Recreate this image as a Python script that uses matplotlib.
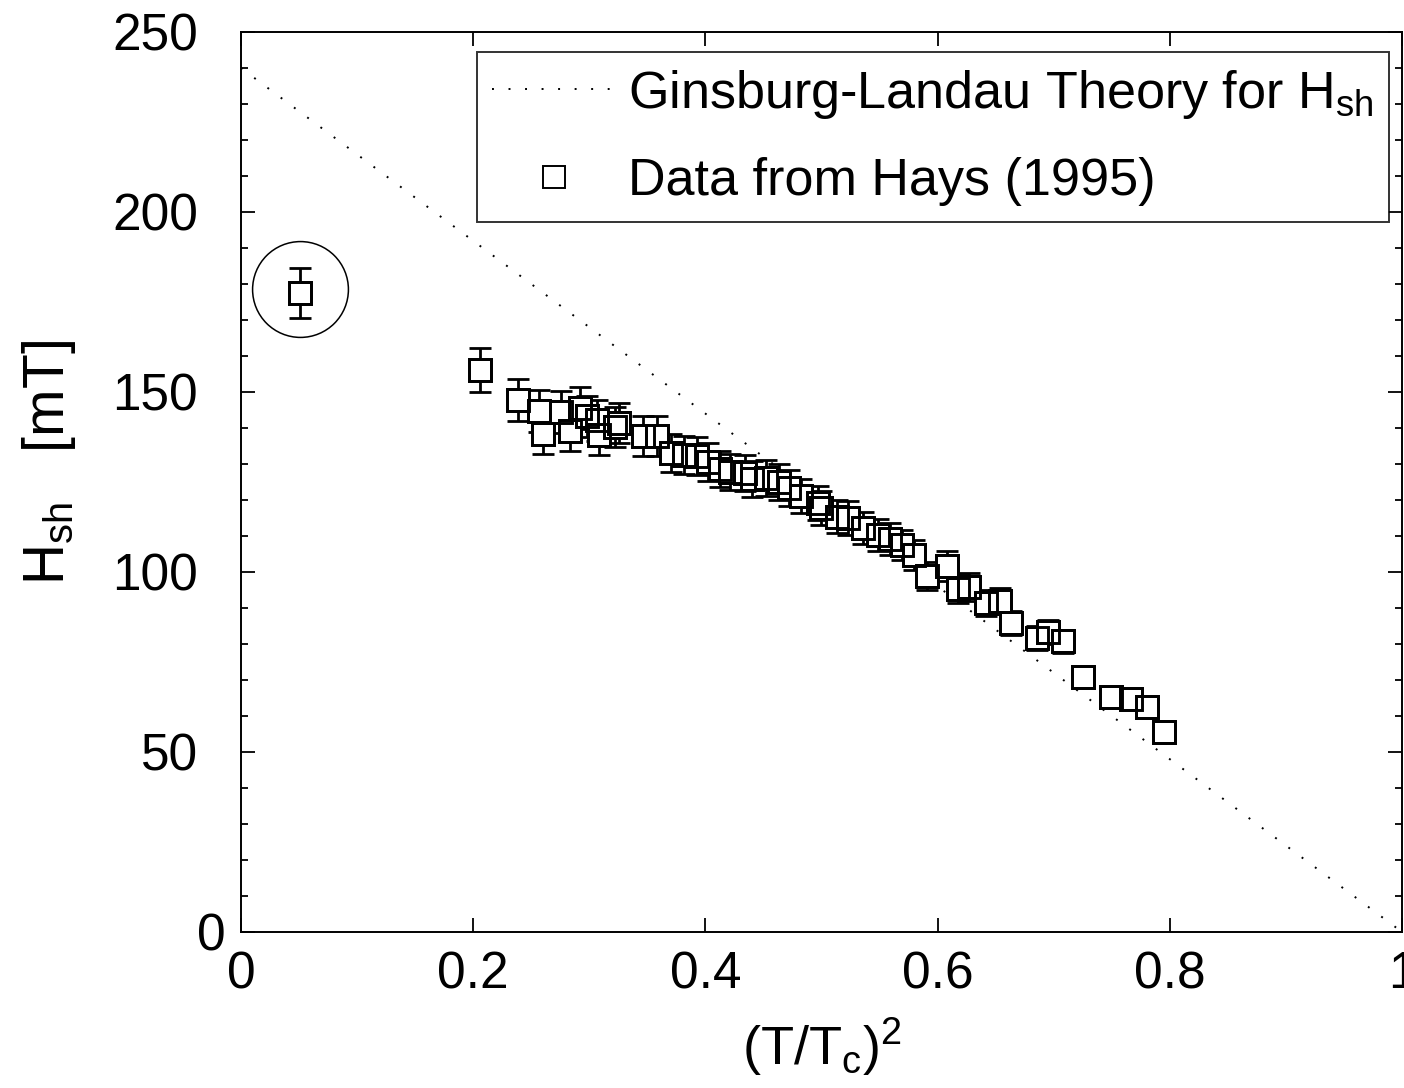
import numpy as np
import matplotlib
matplotlib.use('Agg')
import matplotlib.pyplot as plt
from matplotlib.ticker import MultipleLocator


# DATA
# ================================================================================

# Ginsburg-Landau theory line end points
gl_t2 = [0.0, 1.0]
gl_hsh = [240.0, 0.0]

# Hays (1995) data: (T/Tc)^2, Hsh [mT], error [mT]
hays_t2 = [0.051, 0.206, 0.239, 0.257, 0.260, 0.276, 0.283, 0.292, 0.298, 0.307,
           0.308, 0.322, 0.326, 0.346, 0.358, 0.370, 0.382, 0.393, 0.402, 0.413,
           0.421, 0.434, 0.440, 0.452, 0.463, 0.472, 0.482, 0.497, 0.500, 0.513,
           0.523, 0.536, 0.549, 0.559, 0.569, 0.580, 0.591, 0.608, 0.618, 0.627,
           0.642, 0.654, 0.663, 0.686, 0.695, 0.708, 0.725, 0.749, 0.767, 0.780,
           0.795]
hays_hsh = [177.5, 156.1, 147.8, 144.7, 138.3, 144.4, 139.2, 145.6, 143.3, 142.2,
            138.1, 140.3, 141.4, 137.8, 137.8, 133.1, 132.5, 132.2, 130.6, 128.6,
            127.8, 127.5, 125.8, 126.1, 125.0, 123.3, 121.1, 119.2, 117.8, 115.3,
            115.0, 112.2, 110.3, 109.2, 107.5, 104.7, 98.9, 101.7, 95.3, 95.8,
            91.4, 91.9, 85.8, 81.7, 83.3, 80.8, 70.8, 65.3, 64.7, 62.5,
            55.6]
hays_err = [7.0, 6.2, 5.9, 5.8, 5.5, 5.8, 5.6, 5.8, 5.7, 5.7,
            5.5, 5.6, 5.6, 5.5, 5.5, 5.3, 5.3, 5.3, 5.2, 5.1,
            5.1, 5.1, 5.0, 5.0, 5.0, 4.9, 4.8, 4.8, 4.7, 4.6,
            4.6, 4.5, 4.4, 4.4, 4.3, 4.2, 4.0, 4.1, 3.8, 3.8,
            3.7, 3.7, 3.4, 3.3, 3.3, 3.2, 2.8, 2.6, 2.6, 2.5,
            2.2]

# index of the circled outlier
outlier = 0

xticks = [0, 0.2, 0.4, 0.6, 0.8, 1]
xticklabels = ['0', '0.2', '0.4', '0.6', '0.8', '1']
yticks = [0, 50, 100, 150, 200, 250]


# PLOT
# ================================================================================

plt.rcParams['font.family'] = ['Liberation Sans', 'DejaVu Sans']
plt.rcParams['mathtext.fontset'] = 'custom'
plt.rcParams['mathtext.rm'] = 'Liberation Sans'

fig = plt.figure(figsize=(14.04, 10.88), dpi=100)
ax = fig.add_axes([0.1716, 0.1434, 0.8270, 0.8272])

# theory line
ax.plot(gl_t2, gl_hsh, color='black', linewidth=1.4, linestyle=(0, (1, 7.5)),
        label='Ginsburg-Landau Theory for H$_\\mathregular{sh}$')

# error bars (white faced squares hide the stem inside the box)
ax.errorbar(hays_t2, hays_hsh, yerr=hays_err, fmt='s', markersize=16.5,
            markerfacecolor='white', markeredgecolor='black', markeredgewidth=2,
            ecolor='black', elinewidth=2, capsize=8, capthick=2, zorder=2)

# hollow squares on top
ax.plot(hays_t2, hays_hsh, 's', markersize=16.5, markerfacecolor='none',
        markeredgecolor='black', markeredgewidth=2.1, zorder=3,
        label='Data from Hays (1995)')

# circle around the outlier
ax.plot(hays_t2[outlier], hays_hsh[outlier] + 1.2, 'o', markersize=69,
        markerfacecolor='none', markeredgecolor='black', markeredgewidth=1.1,
        zorder=4)

ax.set_xlim(0, 1)
ax.set_ylim(0, 250)
ax.set_xticks(xticks)
ax.set_xticklabels(xticklabels)
ax.set_yticks(yticks)
ax.yaxis.set_minor_locator(MultipleLocator(10))

ax.tick_params(axis='both', which='both', direction='in', top=True, right=True,
               width=1.3, labelsize=37)
ax.tick_params(axis='both', which='major', length=10)
ax.tick_params(axis='y', which='minor', length=5)
ax.tick_params(axis='x', which='major', pad=13)
ax.tick_params(axis='y', which='major', pad=31)
# the zero on the y axis sits close to the axis in the reference
ax.yaxis.get_major_ticks()[0].set_pad(11)

for spine in ax.spines.values():
    spine.set_linewidth(1.4)

ax.set_xlabel('(T/T$_\\mathregular{c}$)$^\\mathregular{2}$', fontsize=39, labelpad=12)
ax.set_ylabel('H$_\\mathregular{sh}$   [mT]', fontsize=41)
ax.yaxis.set_label_coords(-0.14, 0.522)

leg = ax.legend(loc='upper right', bbox_to_anchor=(0.9888, 0.9778), borderaxespad=0,
                fontsize=37.5, frameon=True, fancybox=False, edgecolor='black',
                handlelength=2.35, handletextpad=0.25, labelspacing=0.7,
                borderpad=0.3)
leg.get_frame().set_linewidth(1.4)
leg.legend_handles[1].set_markersize(16)
leg.legend_handles[1].set_markeredgewidth(1.4)

fig.savefig('out.png', dpi=100)
